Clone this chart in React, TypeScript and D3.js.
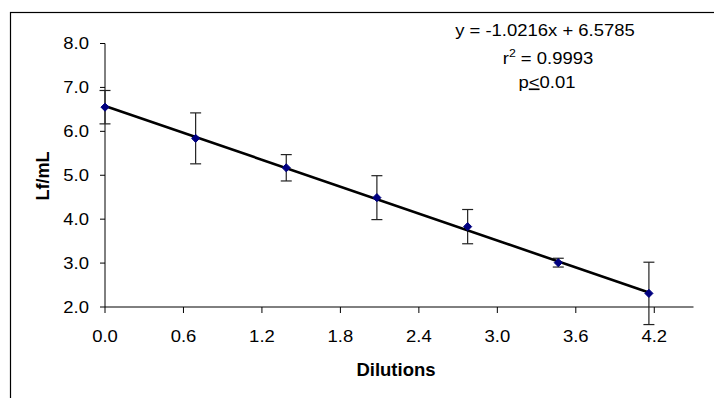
import React from "react";
import * as d3 from "d3";

const dilutions = [0, 0.693, 1.386, 2.079, 2.773, 3.466, 4.159];
const lfPerMl = [6.55, 5.84, 5.17, 4.49, 3.83, 3.01, 2.31];
const errors = [0.38, 0.58, 0.3, 0.5, 0.39, 0.1, 0.71];
const xTicks = [0, 0.6, 1.2, 1.8, 2.4, 3.0, 3.6, 4.2];
const yTicks = [2, 3, 4, 5, 6, 7, 8];
const slope = -1.0216;
const intercept = 6.5785;
const equationLine = "y = -1.0216x + 6.5785";
const rSquaredText = " = 0.9993";
const pValueText = "0.01";

const W = 714;
const H = 398;
const FONT = "'Liberation Sans', Arial, Helvetica, sans-serif";
const SX = 1.12;

function SText(props: {
  x: number;
  y: number;
  anchor?: string;
  size?: number;
  children: React.ReactNode;
  dy?: string;
}) {
  const { x, y, anchor = "middle", size = 16.5, children, dy } = props;
  return (
    <g transform={`translate(${x},${y}) scale(${SX},1)`}>
      <text
        x={0}
        y={0}
        dy={dy}
        textAnchor={anchor as any}
        fontFamily={FONT}
        fontSize={size}
        fill="#000"
      >
        {children}
      </text>
    </g>
  );
}

export default function App() {
  const x = d3.scaleLinear().domain([0, 4.5]).range([105, 693.5]);
  const y = d3.scaleLinear().domain([2, 8]).range([307, 43.5]);
  const line = d3
    .line<number>()
    .x((d) => x(d))
    .y((d) => y(slope * d + intercept));
  const trendX = [0, dilutions[dilutions.length - 1]];
  const diamond = d3.symbol().type(d3.symbolDiamond2).size(42)();
  const x0 = x(0);
  const yBottom = y(2);

  return (
    <svg
      width={W}
      height={H}
      style={{ position: "fixed", left: 0, top: 0, background: "#fff" }}
    >
      <rect x={0} y={0} width={W} height={H} fill="#fff" />
      {/* outer chart frame */}
      <rect x={10.5} y={12.5} width={W + 20} height={H + 20} fill="none" stroke="#000" strokeWidth={1.2} />

      {/* y axis */}
      <line x1={x0} x2={x0} y1={y(8)} y2={yBottom} stroke="#000" strokeWidth={1} />
      {yTicks.map((t) => (
        <g key={"y" + t}>
          <line x1={x0 - 5} x2={x0} y1={y(t)} y2={y(t)} stroke="#000" />
          <SText x={89} y={y(t)} dy="0.36em" anchor="end">
            {t.toFixed(1)}
          </SText>
        </g>
      ))}

      {/* x axis */}
      <line x1={x0} x2={x(4.5)} y1={yBottom} y2={yBottom} stroke="#000" strokeWidth={1} />
      {xTicks.map((t) => (
        <g key={"x" + t}>
          <line x1={x(t)} x2={x(t)} y1={yBottom} y2={yBottom + 6} stroke="#000" />
          <SText x={x(t)} y={341.5}>
            {t.toFixed(1)}
          </SText>
        </g>
      ))}

      {/* axis titles */}
      <text
        x={396}
        y={376}
        textAnchor="middle"
        fontFamily={FONT}
        fontSize={18.5}
        fontWeight="bold"
        fill="#000"
      >
        Dilutions
      </text>
      <text
        transform={`translate(49,176) rotate(-90)`}
        textAnchor="middle"
        fontFamily={FONT}
        fontSize={18}
        fontWeight="bold"
        fill="#000"
      >
        Lf/mL
      </text>

      {/* error bars */}
      {dilutions.map((d, i) => {
        const cx = x(d);
        const top = y(lfPerMl[i] + errors[i]);
        const bot = y(lfPerMl[i] - errors[i]);
        return (
          <g key={"e" + i} stroke="#222" strokeWidth={1.2}>
            <line x1={cx} x2={cx} y1={top} y2={bot} />
            <line x1={cx - 5.5} x2={cx + 5.5} y1={top} y2={top} />
            <line x1={cx - 5.5} x2={cx + 5.5} y1={bot} y2={bot} />
          </g>
        );
      })}

      {/* trend line */}
      <path d={line(trendX) || ""} fill="none" stroke="#000" strokeWidth={2.6} />

      {/* markers */}
      {dilutions.map((d, i) => (
        <path
          key={"m" + i}
          d={diamond || ""}
          transform={`translate(${x(d)},${y(lfPerMl[i])})`}
          fill="#000080"
          stroke="#000080"
          strokeWidth={1}
        />
      ))}

      {/* equation */}
      <SText x={545} y={36}>{equationLine}</SText>
      <SText x={548} y={64}>
        <tspan>r</tspan>
        <tspan fontSize={11} dy={-7}>2</tspan>
        <tspan dy={7}>{rSquaredText}</tspan>
      </SText>
      <SText x={547} y={87.5}>
        <tspan>p</tspan>
        <tspan style={{ textDecoration: "underline" }}>&lt;</tspan>
        <tspan>{pValueText}</tspan>
      </SText>
    </svg>
  );
}
